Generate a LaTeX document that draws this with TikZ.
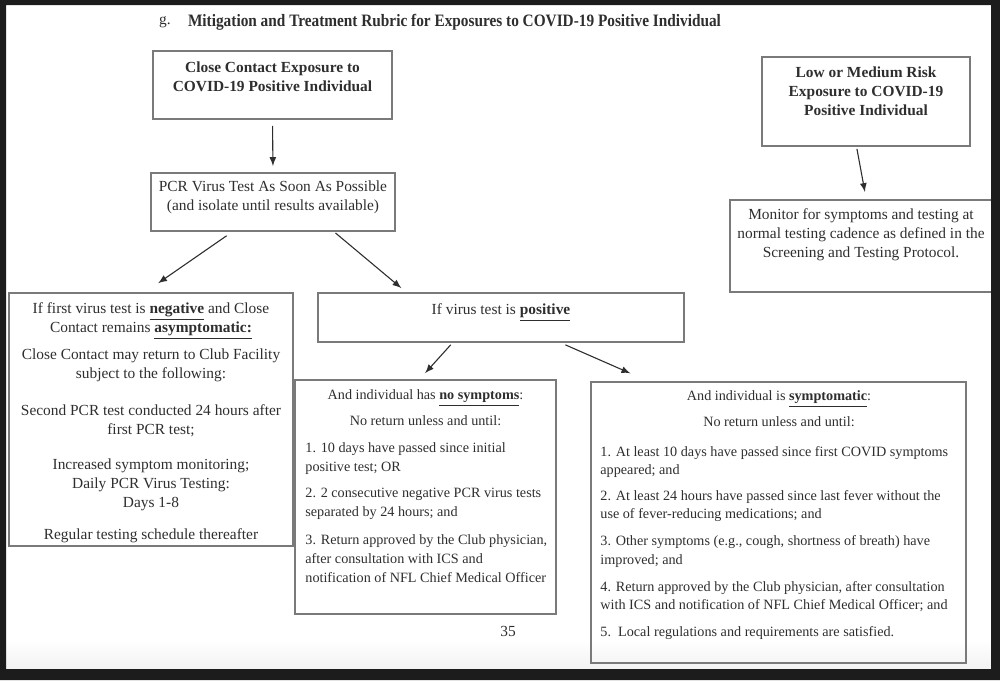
\documentclass[tikz,border=0pt]{standalone}
\usepackage{fontspec}
\setmainfont{Liberation Serif}
\newfontfamily\titlefont{Liberation Serif}[FakeStretch=0.88]
\usepackage{xcolor}
\usetikzlibrary{calc,arrows}
\definecolor{boxgray}{HTML}{7A7A7A}
\definecolor{inkgray}{HTML}{2E2E2E}
\definecolor{framedark}{HTML}{1C1C1C}
\tikzset{stepbox/.style={draw=boxgray, line width=0.9pt, inner sep=0pt}}
\tikzset{txt/.style={inner sep=0pt, align=center, text=inkgray,
  font=\fontsize{7.7}{9.5}\selectfont}}
\tikzset{smalltxt/.style={txt, font=\fontsize{7.1}{9.5}\selectfont}}
\tikzset{listtxt/.style={smalltxt, align=left}}
\tikzset{flow/.style={inkgray, line width=0.55pt, -latex}}
\newcommand\emphul[1]{\underline{\textbf{#1}}}

\begin{document}
\begin{tikzpicture}[x=0.5pt, y=-0.5pt]
\useasboundingbox (0,0) rectangle (1000,680);
\shade[top color=white, bottom color=black!5] (6,640) rectangle (991,669);

% title
\node[txt, anchor=center] (gmark) at (165,22) {g.};
\node[txt, anchor=center, font=\titlefont\bfseries\fontsize{8.7}{10}\selectfont]
  (title) at (454.5,22) {Mitigation and Treatment Rubric for Exposures to COVID-19 Positive Individual};

% boxes
\node[stepbox, minimum width=119.5pt, minimum height=34pt] (cc) at (272.5,85) {};
\node[stepbox, minimum width=122pt, minimum height=29pt] (pcr) at (273,202) {};
\node[stepbox, minimum width=142pt, minimum height=126.5pt] (neg) at (151,419.5) {};
\node[stepbox, minimum width=183pt, minimum height=24.5pt] (pos) at (501,317.5) {};
\node[stepbox, minimum width=130.5pt, minimum height=117pt] (nosym) at (425.5,497) {};
\node[stepbox, minimum width=187.5pt, minimum height=140.5pt] (sym) at (778.5,522.5) {};
\node[stepbox, minimum width=104pt, minimum height=44.5pt] (low) at (866,101.5) {};
\node[stepbox, minimum width=132.5pt, minimum height=46pt] (mon) at (862.5,246) {};

% texts
\node[txt, font=\bfseries\fontsize{7.7}{9.5}\selectfont] (cctxt) at (272.5,76.5)
{Close Contact Exposure to\\ COVID-19 Positive Individual};
\node[txt] (pcrtxt) at (273,197)
{PCR Virus Test As Soon As Possible\\ (and isolate until results available)};
\node[txt] (negtxt) at (151,422.5)
{If first virus test is \emphul{negative} and Close\\ Contact remains \emphul{asymptomatic:}\\[4pt]
Close Contact may return to Club Facility\\ subject to the following:\\[9pt]
Second PCR test conducted 24 hours after\\ first PCR test;\\[8pt]
Increased symptom monitoring;\\ Daily PCR Virus Testing:\\ Days 1-8\\[6.5pt]
Regular testing schedule thereafter};
\node[txt] (postxt) at (501,313) {If virus test is \emphul{positive}};

\node[smalltxt] (nosymhead) at (425.5,408)
{And individual has \emphul{no symptoms}:\\[3.5pt] No return unless and until:};
\node[listtxt, anchor=west] (nosymlist) at (305,512.5)
{1. 10 days have passed since initial\\ positive test; OR\\[3.5pt]
2. 2 consecutive negative PCR virus tests\\ separated by 24 hours; and\\[4.5pt]
3. Return approved by the Club physician,\\ after consultation with ICS and\\ notification of NFL Chief Medical Officer};

\node[smalltxt] (symhead) at (779,409)
{And individual is \emphul{symptomatic}:\\[3.5pt] No return unless and until:};
\node[listtxt, anchor=west, font=\fontsize{7.1}{9.1}\selectfont] (symlist) at (600,543)
{1. At least 10 days have passed since first COVID symptoms\\ appeared; and\\[4pt]
2. At least 24 hours have passed since last fever without the\\ use of fever-reducing medications; and\\[4.5pt]
3. Other symptoms (e.g., cough, shortness of breath) have\\ improved; and\\[4.5pt]
4. Return approved by the Club physician, after consultation\\ with ICS and notification of NFL Chief Medical Officer; and\\[4.5pt]
5.\ \ Local regulations and requirements are satisfied.};

\node[txt, font=\bfseries\fontsize{7.7}{9.5}\selectfont] (lowtxt) at (866,91.5)
{Low or Medium Risk\\ Exposure to COVID-19\\ Positive Individual};
\node[txt] (montxt) at (861,234.5)
{Monitor\ for symptoms and testing at\\ normal testing cadence as defined in the\\ Screening and Testing Protocol.};

\node[txt] (pagenum) at (508,631) {35};

% arrows
\draw[flow, shorten <=3pt, shorten >=3pt] (cc.south) -- (pcr.north);
\draw[flow, shorten <=3.4pt, shorten >=7.8pt]
  ($(pcr.south west)!0.334!(pcr.south east)$) -- ($(neg.north west)!0.48!(neg.north east)$);
\draw[flow, shorten <=0.8pt, shorten >=3.1pt]
  ($(pcr.south west)!0.749!(pcr.south east)$) -- ($(pos.north west)!0.242!(pos.north east)$);
\draw[flow, shorten <=1.3pt, shorten >=4pt]
  ($(pos.south west)!0.368!(pos.south east)$) -- ($(nosym.north west)!0.478!(nosym.north east)$);
\draw[flow, shorten <=2.4pt, shorten >=9.7pt]
  ($(pos.south west)!0.663!(pos.south east)$) -- ($(sym.north west)!0.154!(sym.north east)$);
\draw[flow, shorten <=1pt, shorten >=3.6pt]
  ($(low.south west)!0.455!(low.south east)$) -- ($(mon.north west)!0.514!(mon.north east)$);

% screen frame
\fill[framedark, even odd rule] (0,0) rectangle (1000,680) (6,5) rectangle (991,669);
\end{tikzpicture}
\end{document}
